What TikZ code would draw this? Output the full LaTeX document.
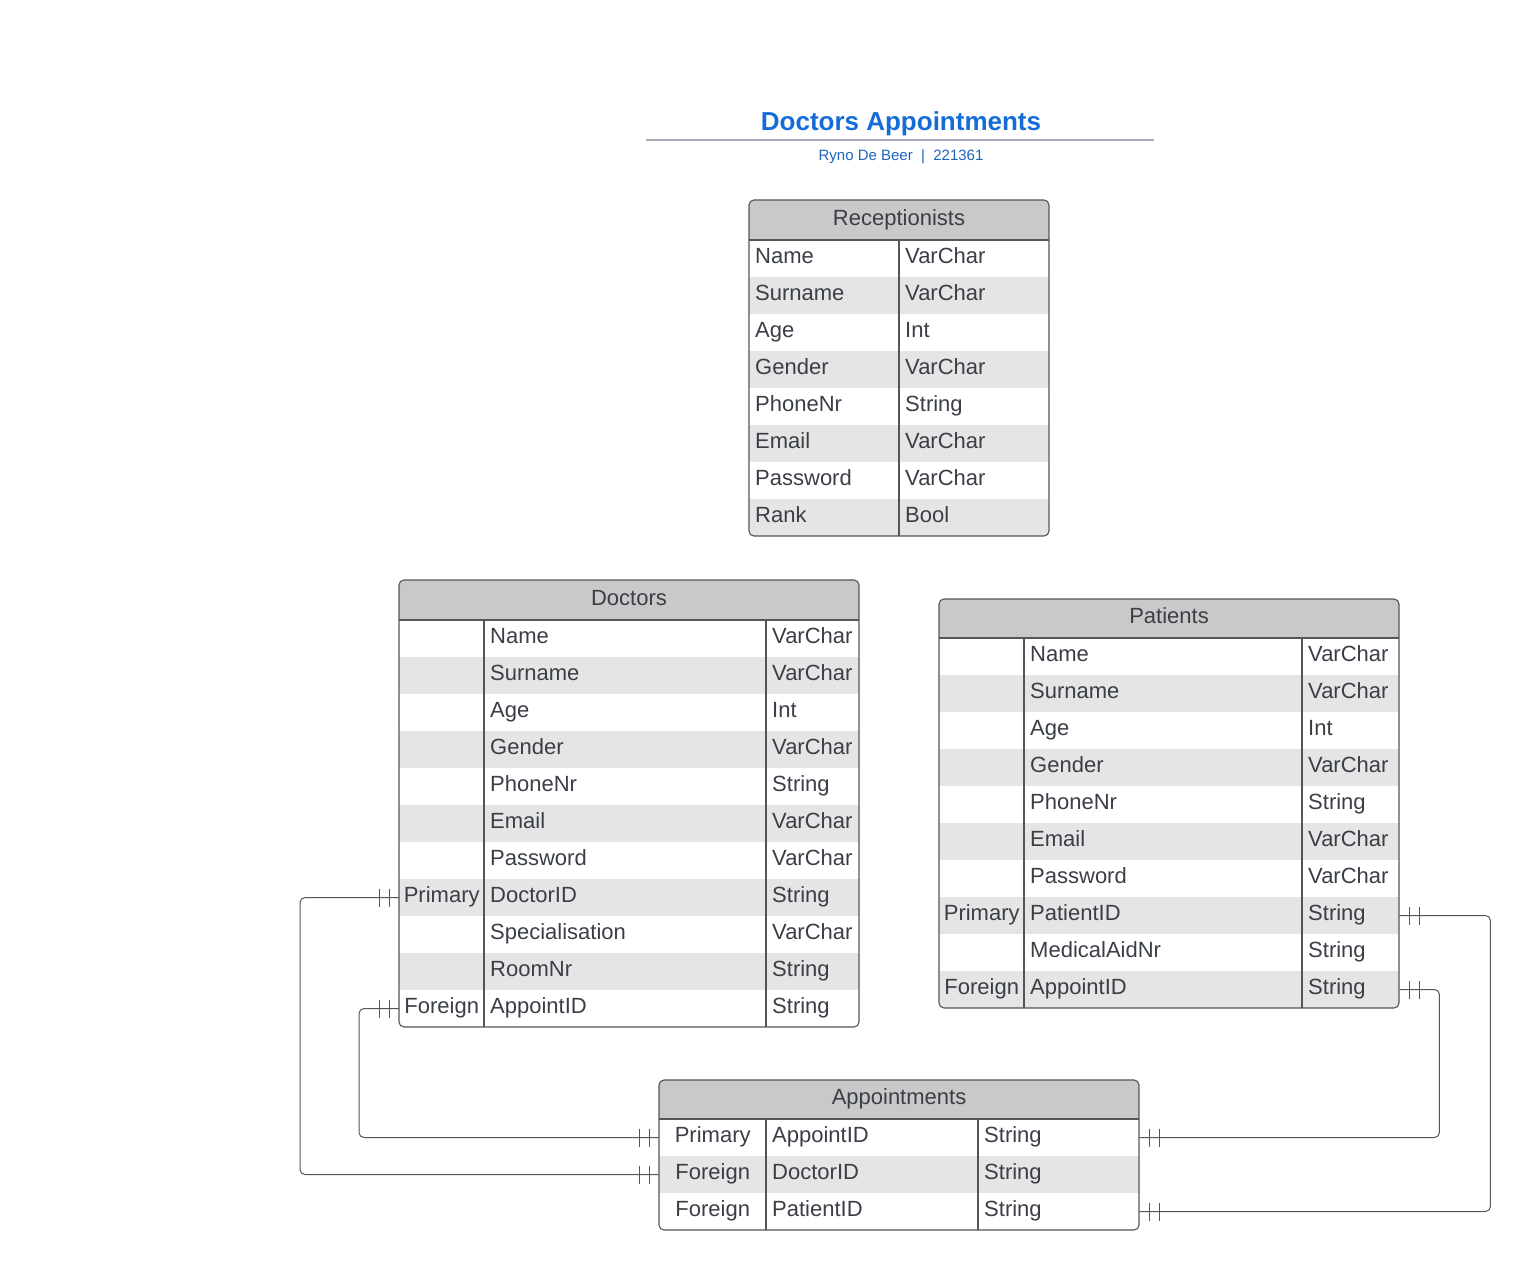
\documentclass[tikz,border=0pt]{standalone}
\usepackage{fontspec}
\setmainfont{Liberation Sans}
\usetikzlibrary{decorations.markings}

\definecolor{inkgray}{RGB}{58,62,70}
\definecolor{framegray}{RGB}{85,85,85}
\definecolor{headfill}{RGB}{201,201,201}
\definecolor{rowfill}{RGB}{229,229,229}
\definecolor{titleblue}{RGB}{22,108,214}
\definecolor{subblue}{RGB}{30,100,190}
\definecolor{rulegray}{RGB}{165,172,182}

\newcommand\onetick{\draw[framegray, line width=1pt] (0pt,-9pt) -- (0pt,9pt);}

\tikzset{
	cell/.style={anchor=west, text width=#1, inner xsep=6pt, inner ysep=0pt,
		minimum height=37pt, text height=15pt, text depth=5pt, align=left,
		text=inkgray, font=\fontsize{22}{26}\selectfont},
	keycell/.style={cell=#1, inner xsep=3pt, align=center},
	head/.style={text=inkgray, text height=15pt, text depth=5pt, font=\fontsize{22}{26}\selectfont},
	frame/.style={draw=framegray, line width=1.1pt, rounded corners=5pt},
	divider/.style={draw=framegray, line width=1.1pt},
	rel/.style={draw=framegray, line width=1pt, rounded corners=5pt,
		postaction={decorate, decoration={markings,
			mark=at position 10pt with {\onetick},
			mark=at position 20pt with {\onetick},
			mark=at position -10pt with {\onetick},
			mark=at position -20pt with {\onetick}}}}
}

\begin{document}
\begin{tikzpicture}[x=1pt, y=-1pt]
	\useasboundingbox (0,0) rectangle (1530,1271);

	% title
	\node [text=titleblue, font=\bfseries\fontsize{26}{30}\selectfont] (title) at (901,124) {Doctors Appointments};
	\draw [rulegray, line width=1.5pt] (646,140) -- (1154,140);
	\node [text=subblue, font=\fontsize{15}{18}\selectfont] (author) at (901,157) {Ryno De Beer~~|~~221361};

	% Receptionists
	\begin{scope}
		\clip [rounded corners=5pt] (749,200) rectangle (1049,536);
		\fill [headfill] (749,200) rectangle (1049,240);
		\foreach \i in {2, 4, 6, 8} {
			\fill [rowfill] (749,203+37*\i) rectangle (1049,240+37*\i);
		}
	\end{scope}
	\draw [frame] (749,200) rectangle (1049,536);
	\draw [divider] (749,240) -- (1049,240);
	\draw [divider] (899,240) -- (899,536);
	\node [head] (rec) at (899,220) {Receptionists};
	\foreach \f/\t [count=\i] in {Name/VarChar, Surname/VarChar, Age/Int, Gender/VarChar,
			PhoneNr/String, Email/VarChar, Password/VarChar, Rank/Bool} {
		\node [cell=138pt] (r-n\i) at (749,221.5+37*\i) {\f};
		\node [cell=138pt] (r-t\i) at (899,221.5+37*\i) {\t};
	}

	% Doctors
	\begin{scope}
		\clip [rounded corners=5pt] (399,580) rectangle (859,1027);
		\fill [headfill] (399,580) rectangle (859,620);
		\foreach \i in {2, 4, 6, 8, 10} {
			\fill [rowfill] (399,583+37*\i) rectangle (859,620+37*\i);
		}
	\end{scope}
	\draw [frame] (399,580) rectangle (859,1027);
	\draw [divider] (399,620) -- (859,620);
	\draw [divider] (484,620) -- (484,1027);
	\draw [divider] (766,620) -- (766,1027);
	\node [head] (doc) at (629,600) {Doctors};
	\foreach \k/\f/\t [count=\i] in {/Name/VarChar, /Surname/VarChar, /Age/Int, /Gender/VarChar,
			/PhoneNr/String, /Email/VarChar, /Password/VarChar, Primary/DoctorID/String,
			/Specialisation/VarChar, /RoomNr/String, Foreign/AppointID/String} {
		\node [keycell=79pt] (d-k\i) at (399,601.5+37*\i) {\k};
		\node [cell=270pt] (d-n\i) at (484,601.5+37*\i) {\f};
		\node [cell=81pt] (d-t\i) at (766,601.5+37*\i) {\t};
	}

	% Patients
	\begin{scope}
		\clip [rounded corners=5pt] (939,599) rectangle (1399,1008);
		\fill [headfill] (939,599) rectangle (1399,638);
		\foreach \i in {2, 4, 6, 8, 10} {
			\fill [rowfill] (939,601+37*\i) rectangle (1399,638+37*\i);
		}
	\end{scope}
	\draw [frame] (939,599) rectangle (1399,1008);
	\draw [divider] (939,638) -- (1399,638);
	\draw [divider] (1024,638) -- (1024,1008);
	\draw [divider] (1302,638) -- (1302,1008);
	\node [head] (pat) at (1169,618.5) {Patients};
	\foreach \k/\f/\t [count=\i] in {/Name/VarChar, /Surname/VarChar, /Age/Int, /Gender/VarChar,
			/PhoneNr/String, /Email/VarChar, /Password/VarChar, Primary/PatientID/String,
			/MedicalAidNr/String, Foreign/AppointID/String} {
		\node [keycell=79pt] (p-k\i) at (939,619.5+37*\i) {\k};
		\node [cell=266pt] (p-n\i) at (1024,619.5+37*\i) {\f};
		\node [cell=85pt] (p-t\i) at (1302,619.5+37*\i) {\t};
	}

	% Appointments
	\begin{scope}
		\clip [rounded corners=5pt] (659,1080) rectangle (1139,1230);
		\fill [headfill] (659,1080) rectangle (1139,1119);
		\fill [rowfill] (659,1156) rectangle (1139,1193);
	\end{scope}
	\draw [frame] (659,1080) rectangle (1139,1230);
	\draw [divider] (659,1119) -- (1139,1119);
	\draw [divider] (766,1119) -- (766,1230);
	\draw [divider] (978,1119) -- (978,1230);
	\node [head] (app) at (899,1099.5) {Appointments};
	\foreach \k/\f/\t [count=\i] in {Primary/AppointID/String, Foreign/DoctorID/String,
			Foreign/PatientID/String} {
		\node [keycell=101pt] (a-k\i) at (659,1100.5+37*\i) {\k};
		\node [cell=200pt] (a-n\i) at (766,1100.5+37*\i) {\f};
		\node [cell=149pt] (a-t\i) at (978,1100.5+37*\i) {\t};
	}

	% relations
	\draw [rel] (d-k8.west) -- ++(-99,0) |- (a-k2.west);
	\draw [rel] (d-k11.west) -- ++(-40,0) |- (a-k1.west);
	\draw [rel] (p-t8.east) -- ++(91,0) |- (a-t3.east);
	\draw [rel] (p-t10.east) -- ++(40,0) |- (a-t1.east);
\end{tikzpicture}
\end{document}
